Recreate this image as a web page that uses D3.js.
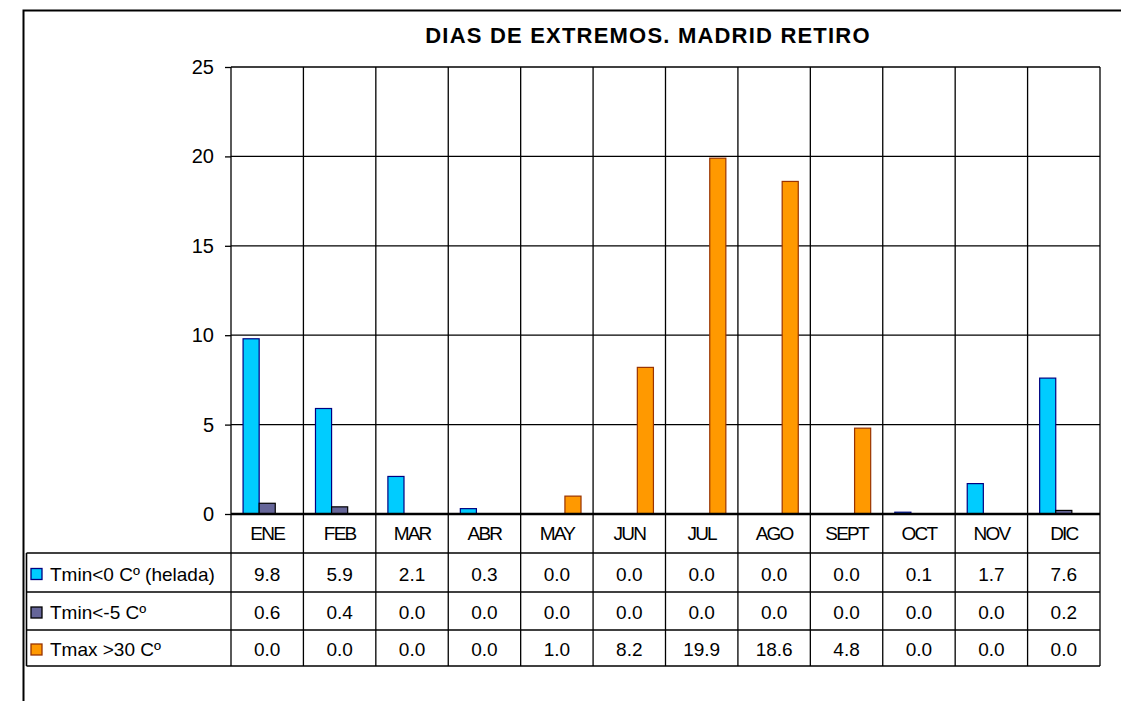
<!DOCTYPE html>
<html>
<head>
<meta charset="utf-8">
<script src="https://cdn.jsdelivr.net/npm/d3@7"></script>
<style>
  body { margin: 0; background: #fff; }
  svg { display: block; font-family: "Liberation Sans", Arial, sans-serif; }
</style>
</head>
<body>
<svg></svg>
<script>
// data
var months = ["ENE", "FEB", "MAR", "ABR", "MAY", "JUN", "JUL", "AGO", "SEPT", "OCT", "NOV", "DIC"];
var seriesNames = ["Tmin<0 Cº (helada)", "Tmin<-5 Cº", "Tmax >30 Cº"];
var helada = [9.8, 5.9, 2.1, 0.3, 0.0, 0.0, 0.0, 0.0, 0.0, 0.1, 1.7, 7.6];
var bajoMenos5 = [0.6, 0.4, 0.0, 0.0, 0.0, 0.0, 0.0, 0.0, 0.0, 0.0, 0.0, 0.2];
var sobre30 = [0.0, 0.0, 0.0, 0.0, 1.0, 8.2, 19.9, 18.6, 4.8, 0.0, 0.0, 0.0];
var yTicks = [0, 5, 10, 15, 20, 25];

var fills = ["#00CCFF", "#666699", "#FF9900"];
var strokes = ["#000080", "#000000", "#993300"];
var series = [helada, bajoMenos5, sobre30];

var width = 1121, height = 701;
var svg = d3.select("svg").attr("width", width).attr("height", height);

// outer frame
svg.append("path")
    .attr("d", "M23.5,701 L23.5,10.5 L1121,10.5")
    .attr("fill", "none").attr("stroke", "#000").attr("stroke-width", 2);

var plotLeft = 231, plotRight = 1100, plotTop = 67, zeroY = 514;

var x = d3.scaleBand().domain(months).range([plotLeft, plotRight]);
var y = d3.scaleLinear().domain([0, 25]).range([zeroY, plotTop]);
var bw = x.bandwidth() / 4.5;
var xs = d3.scaleBand().domain(d3.range(3)).range([0, bw * 3]);

// title
svg.append("text")
    .attr("x", 648).attr("y", 43)
    .attr("text-anchor", "middle")
    .attr("font-size", 22).attr("font-weight", "bold").attr("letter-spacing", 1.2)
    .text("DIAS DE EXTREMOS. MADRID RETIRO");

// horizontal gridlines
svg.append("g").selectAll("line")
    .data(yTicks.filter(function(d) { return d > 0; }))
    .enter().append("line")
    .attr("x1", plotLeft).attr("x2", plotRight)
    .attr("y1", function(d) { return y(d); })
    .attr("y2", function(d) { return y(d); })
    .attr("stroke", "#000").attr("stroke-width", 1.3);

// vertical gridlines (category boundaries) through header and table
var rowTops = [553, 592, 630, 666];
svg.append("g").selectAll("line")
    .data(months.concat(["end"]))
    .enter().append("line")
    .attr("x1", function(d, i) { return plotLeft + i * x.step(); })
    .attr("x2", function(d, i) { return plotLeft + i * x.step(); })
    .attr("y1", plotTop).attr("y2", rowTops[3])
    .attr("stroke", "#000").attr("stroke-width", 1.3);

// y axis
var yAxis = d3.axisLeft(y).tickValues(yTicks).tickSize(6).tickPadding(11);
var ga = svg.append("g").attr("transform", "translate(" + plotLeft + ",0)").call(yAxis);
ga.select(".domain").remove();
ga.selectAll("line").attr("stroke", "#000").attr("stroke-width", 1.3);
ga.selectAll("text").attr("font-size", 20).attr("fill", "#000")
    .attr("font-family", "Liberation Sans, Arial, sans-serif");

// bars
series.forEach(function(vals, s) {
    var pts = vals.map(function(v, i) { return {m: months[i], v: v}; })
        .filter(function(d) { return d.v > 0; });
    svg.append("g").selectAll("rect")
        .data(pts)
        .enter().append("rect")
        .attr("x", function(d) { return x(d.m) + bw * 0.75 + xs(s); })
        .attr("y", function(d) { return y(d.v); })
        .attr("width", xs.bandwidth())
        .attr("height", function(d) { return zeroY - y(d.v); })
        .attr("fill", fills[s])
        .attr("stroke", strokes[s]).attr("stroke-width", 1.2);
});

// zero axis
svg.append("line")
    .attr("x1", plotLeft).attr("x2", plotRight)
    .attr("y1", zeroY).attr("y2", zeroY)
    .attr("stroke", "#000").attr("stroke-width", 2.5);

// category labels (header row)
svg.append("g").selectAll("text")
    .data(months)
    .enter().append("text")
    .attr("x", function(d) { return x(d) + x.bandwidth() / 2; })
    .attr("y", 540)
    .attr("text-anchor", "middle")
    .attr("font-size", 19).attr("letter-spacing", -1.8)
    .text(function(d) { return d; });

// data table
var tableLeft = 26.5;
svg.append("g").selectAll("line")
    .data(rowTops)
    .enter().append("line")
    .attr("x1", tableLeft).attr("x2", plotRight)
    .attr("y1", function(d) { return d; }).attr("y2", function(d) { return d; })
    .attr("stroke", "#000").attr("stroke-width", 1.6);
svg.append("line")
    .attr("x1", tableLeft).attr("x2", tableLeft)
    .attr("y1", rowTops[0]).attr("y2", rowTops[3])
    .attr("stroke", "#000").attr("stroke-width", 1.6);

series.forEach(function(vals, s) {
    var cy = (rowTops[s] + rowTops[s + 1]) / 2;
    svg.append("rect")
        .attr("x", 31).attr("y", cy - 4)
        .attr("width", 11).attr("height", 11)
        .attr("fill", fills[s]).attr("stroke", strokes[s]).attr("stroke-width", 1.3);
    svg.append("text")
        .attr("x", 50).attr("y", cy + 8)
        .attr("font-size", 19)
        .text(seriesNames[s]);
    svg.append("g").selectAll("text")
        .data(vals)
        .enter().append("text")
        .attr("x", function(d, i) { return x(months[i]) + x.bandwidth() / 2; })
        .attr("y", cy + 8)
        .attr("text-anchor", "middle")
        .attr("font-size", 19)
        .text(function(d) { return d3.format(".1f")(d); });
});
</script>
</body>
</html>
